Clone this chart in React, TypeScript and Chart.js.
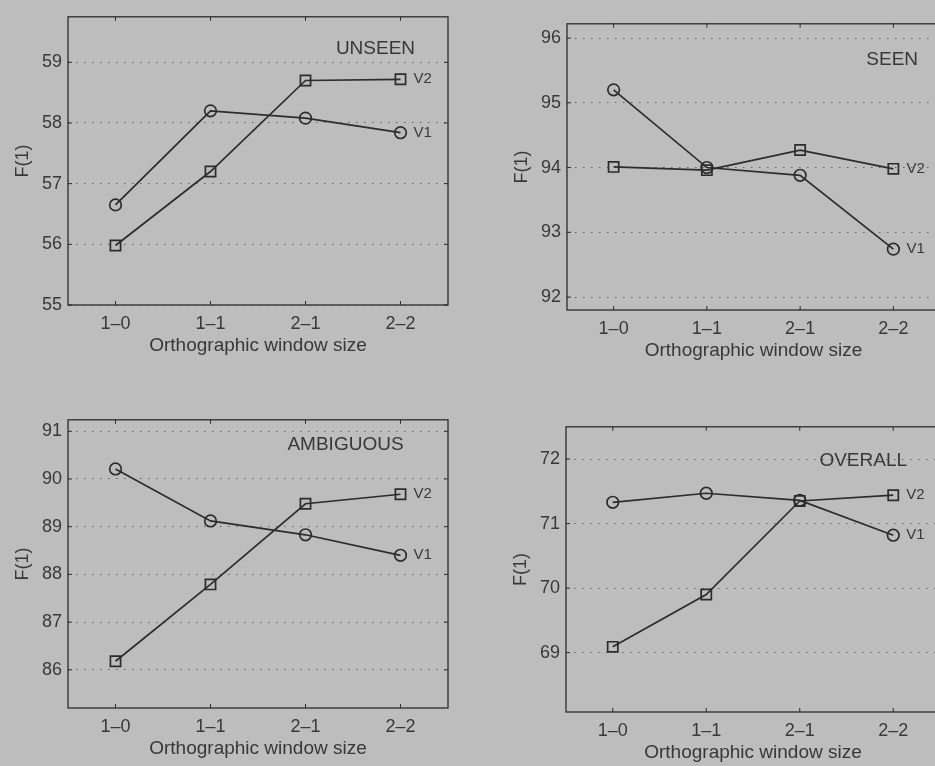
import React, { useEffect, useRef } from 'react';
import { Chart, registerables } from 'chart.js';

Chart.register(...registerables);

// Orthographic window sizes on the x axis
const windowSizes = ['1–0', '1–1', '2–1', '2–2'];

// F(1) scores per subset, V1 (circles) and V2 (squares)
const unseenV1 = [56.65, 58.2, 58.08, 57.84];
const unseenV2 = [55.98, 57.2, 58.7, 58.72];
const unseenTicks = [55, 56, 57, 58, 59];

const seenV1 = [95.2, 94.0, 93.88, 92.74];
const seenV2 = [94.01, 93.96, 94.27, 93.98];
const seenTicks = [92, 93, 94, 95, 96];

const ambiguousV1 = [90.21, 89.12, 88.83, 88.4];
const ambiguousV2 = [86.18, 87.79, 89.48, 89.68];
const ambiguousTicks = [86, 87, 88, 89, 90, 91];

const overallV1 = [71.33, 71.47, 71.36, 70.82];
const overallV2 = [69.09, 69.9, 71.35, 71.44];
const overallTicks = [69, 70, 71, 72];

const FONT = "'Liberation Sans', Arial, Helvetica, sans-serif";
const INK = '#2c2c2c';
const TEXT = '#383838';
const BG = '#bdbdbd';

type PanelSpec = {
  name: string;
  v1: number[];
  v2: number[];
  ticks: number[];
  yMin: number;
  yMax: number;
  nameAt: [number, number];
  area: { left: number; top: number; right: number; bottom: number };
};

const panels: PanelSpec[] = [
  { name: 'UNSEEN', v1: unseenV1, v2: unseenV2, ticks: unseenTicks, yMin: 55, yMax: 59.75, nameAt: [2.32, 59.22], area: { left: 68, top: 13, right: 448, bottom: 305 } },
  { name: 'SEEN', v1: seenV1, v2: seenV2, ticks: seenTicks, yMin: 91.8, yMax: 96.22, nameAt: [2.71, 95.66], area: { left: 567, top: 20, right: 940, bottom: 310 } },
  { name: 'AMBIGUOUS', v1: ambiguousV1, v2: ambiguousV2, ticks: ambiguousTicks, yMin: 85.2, yMax: 91.24, nameAt: [1.81, 90.71], area: { left: 68, top: 416, right: 448, bottom: 708 } },
  { name: 'OVERALL', v1: overallV1, v2: overallV2, ticks: overallTicks, yMin: 68.08, yMax: 72.5, nameAt: [2.21, 71.97], area: { left: 566, top: 423, right: 940, bottom: 712 } },
];

const Y_AXIS_W = 68;
const X_AXIS_H = 56;
const PAD_TOP = 13;
const PAD_RIGHT = 22;

// Box with inward tick marks, subset name and series end labels
const framePlugin = {
  id: 'frame',
  afterDraw(chart: any, _args: any, opts: any) {
    const { ctx, chartArea: a, scales } = chart;
    const x = scales.x;
    const y = scales.y;
    ctx.save();
    ctx.strokeStyle = INK;
    ctx.lineWidth = 1.3;
    ctx.strokeRect(a.left, a.top, a.right - a.left, a.bottom - a.top);
    ctx.lineWidth = 1;
    const tl = 4;
    ctx.beginPath();
    x.ticks.forEach((_t: any, i: number) => {
      const px = x.getPixelForTick(i);
      ctx.moveTo(px, a.bottom);
      ctx.lineTo(px, a.bottom - tl);
      ctx.moveTo(px, a.top);
      ctx.lineTo(px, a.top + tl);
    });
    y.ticks.forEach((t: any) => {
      const py = y.getPixelForValue(t.value);
      ctx.moveTo(a.left, py);
      ctx.lineTo(a.left + tl, py);
      ctx.moveTo(a.right, py);
      ctx.lineTo(a.right - tl, py);
    });
    ctx.stroke();

    ctx.fillStyle = TEXT;
    ctx.textBaseline = 'middle';
    ctx.textAlign = 'left';
    ctx.font = `19px ${FONT}`;
    ctx.fillText(opts.name, x.getPixelForValue(opts.nameAt[0]), y.getPixelForValue(opts.nameAt[1]));

    ctx.font = `15px ${FONT}`;
    chart.data.datasets.forEach((ds: any, di: number) => {
      const meta = chart.getDatasetMeta(di);
      const pt = meta.data[meta.data.length - 1];
      ctx.fillText(ds.label, pt.x + 13, pt.y);
    });
    ctx.restore();
  },
};

function Panel({ spec }: { spec: PanelSpec }) {
  const ref = useRef<HTMLCanvasElement>(null);
  const { area } = spec;
  const width = Y_AXIS_W + (area.right - area.left) + PAD_RIGHT;
  const height = PAD_TOP + (area.bottom - area.top) + X_AXIS_H;

  useEffect(() => {
    if (!ref.current) return;
    const chart = new Chart(ref.current, {
      type: 'line',
      data: {
        labels: windowSizes,
        datasets: [
          {
            label: 'V1',
            data: spec.v1,
            borderColor: INK,
            borderWidth: 1.7,
            pointStyle: 'circle',
            pointRadius: 5.8,
            pointBorderWidth: 1.7,
            pointBorderColor: INK,
            pointBackgroundColor: 'rgba(0,0,0,0)',
            tension: 0,
            clip: false,
          },
          {
            label: 'V2',
            data: spec.v2,
            borderColor: INK,
            borderWidth: 1.7,
            pointStyle: 'rect',
            pointRadius: 7.2,
            pointBorderWidth: 1.7,
            pointBorderColor: INK,
            pointBackgroundColor: 'rgba(0,0,0,0)',
            tension: 0,
            clip: false,
          },
        ],
      },
      options: {
        animation: false,
        responsive: false,
        maintainAspectRatio: false,
        events: [],
        layout: { padding: { top: PAD_TOP, right: PAD_RIGHT, bottom: 0, left: 0 } },
        plugins: {
          legend: { display: false },
          tooltip: { enabled: false },
          frame: { name: spec.name, nameAt: spec.nameAt },
        } as any,
        scales: {
          x: {
            type: 'category',
            offset: true,
            grid: { display: false, drawTicks: false },
            border: { display: false },
            ticks: { color: TEXT, padding: 8, font: { family: FONT, size: 18 } },
            title: {
              display: true,
              text: 'Orthographic window size',
              color: TEXT,
              font: { family: FONT, size: 19 },
              padding: { top: 0, bottom: 4 },
            },
            afterFit: (s: any) => {
              s.height = X_AXIS_H;
            },
          },
          y: {
            type: 'linear',
            min: spec.yMin,
            max: spec.yMax,
            afterBuildTicks: (s: any) => {
              s.ticks = spec.ticks.map((v) => ({ value: v }));
            },
            grid: { color: '#626262', lineWidth: 1, drawTicks: false },
            border: { display: false, dash: [1.5, 6.5] },
            ticks: { color: TEXT, padding: 6, font: { family: FONT, size: 18 } },
            title: {
              display: true,
              text: 'F(1)',
              color: TEXT,
              font: { family: FONT, size: 18 },
              padding: { top: 12, bottom: 0 },
            },
            afterFit: (s: any) => {
              s.width = Y_AXIS_W;
            },
          },
        },
      },
      plugins: [framePlugin],
    });
    return () => chart.destroy();
  }, [spec]);

  return (
    <canvas
      ref={ref}
      width={width}
      height={height}
      style={{
        position: 'absolute',
        left: area.left - Y_AXIS_W,
        top: area.top - PAD_TOP,
        width,
        height,
      }}
    />
  );
}

export default function App() {
  return (
    <div
      style={{
        position: 'absolute',
        left: 0,
        top: 0,
        width: 935,
        height: 766,
        overflow: 'hidden',
        background: BG,
      }}
    >
      {panels.map((p) => (
        <Panel key={p.name} spec={p} />
      ))}
    </div>
  );
}
